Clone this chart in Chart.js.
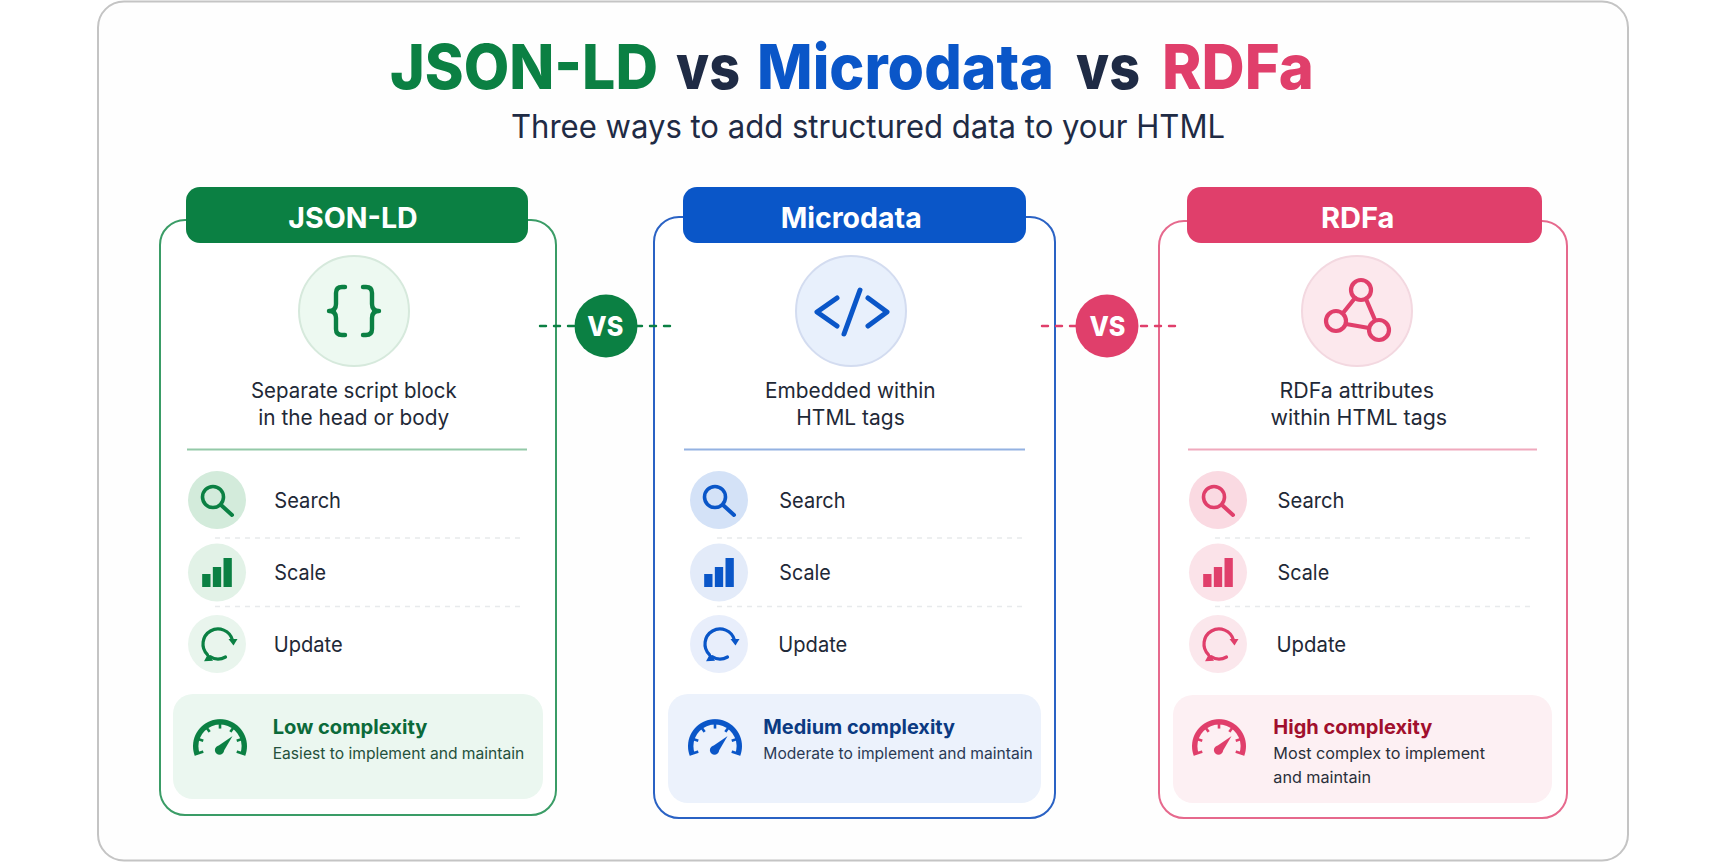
<!DOCTYPE html>
<html lang="en">
<head>
<meta charset="utf-8">
<title>JSON-LD vs Microdata vs RDFa</title>
<script src="https://cdn.jsdelivr.net/npm/chart.js@4/dist/chart.umd.min.js"></script>
<style>
  html, body { margin: 0; padding: 0; background: #ffffff; overflow: hidden; }
  #stage { position: relative; width: 1727px; height: 864px; font-family: Inter, "Noto Sans", sans-serif; }
  #art { position: absolute; left: 0; top: 0; }
  #stage canvas { position: absolute; }
</style>
</head>
<body>
<div id="stage"><svg id="art" xmlns="http://www.w3.org/2000/svg" width="1727" height="864" viewBox="0 0 1727 864"></svg></div>
<script>
/* ---------- content ---------- */
const titleWords = ["JSON-LD", "vs", "Microdata", "vs", "RDFa"];
const subtitle = "Three ways to add structured data to your HTML";
const formats = ["JSON-LD", "Microdata", "RDFa"];
const descriptions = [
  ["Separate script block", "in the head or body"],
  ["Embedded within", "HTML tags"],
  ["RDFa attributes", "within HTML tags"]
];
const rowLabels = ["Search", "Scale", "Update"];
const complexityLabels = ["Low complexity", "Medium complexity", "High complexity"];
const complexityNotes = [
  ["Easiest to implement and maintain"],
  ["Moderate to implement and maintain"],
  ["Most complex to implement", "and maintain"]
];
const badgeLabel = "VS";
const scaleBarValues = [13, 20, 29];   // the three bars of the "Scale" glyph
const gaugeSweep = [100];              // the dial ring of the complexity glyph

/* ---------- colours ---------- */
const mainColor    = ["#0b8043", "#0a56c8", "#e03f6b"];
const borderColor  = ["#3a9c66", "#2a62c4", "#e6698d"];
const ruleColor    = ["#93c9a8", "#94b2e2", "#f0a9bd"];
const bigFill      = ["#edf9f1", "#e8f0fc", "#fce8ed"];
const bigStroke    = ["#d6e9dc", "#d3dcf0", "#f3d8e0"];
const rowFills     = [["#d3ebdb", "#e2f2e7", "#e9f5ed"], ["#d4e2f7", "#e3ebf9", "#e8eefb"], ["#fadae2", "#fbe3e9", "#fbe7ec"]];
const noteBoxFill  = ["#ebf7f0", "#ecf2fc", "#fdf0f3"];
const noteTitle    = ["#0b6a3a", "#0b3a82", "#a10f2d"];
const noteText     = ["#24513c", "#2a3a55", "#2a2f3a"];
const inkDark = "#1f2937", inkNavy = "#1f2b45", inkSub = "#1f2b45";

/* ---------- page layout (pixels) ---------- */
const titleLayout = [[390, 268, mainColor[0]], [676, 64, inkNavy], [757, 297, mainColor[1]], [1076, 64, inkNavy], [1162, 152, mainColor[2]]];
const panelBox  = [[160, 220, 396, 595], [654, 217, 401, 601], [1159, 221, 408, 597]];
const headerBox = [[186, 187, 342, 56], [683, 187, 343, 56], [1187, 187, 355, 56]];
const headerText= [[288.3, 129.4], [780.7, 141], [1321, 73.5]];
const bigCircleX= [354, 851, 1357];
const descText  = [[[251, 205.7], [258.3, 191]], [[765, 170.7], [796.3, 108.4]], [[1279.5, 154.6], [1270.5, 176.5]]];
const ruleX     = [[187, 527], [684, 1025], [1188, 1537]];
const rowCx     = [217, 719, 1218];
const rowY      = [500, 572.5, 644];
const rowTextBase = [508.3, 580.4, 652];
const rowText   = [[[274.3, 66.7], [274.3, 51.7], [273.7, 69]], [[779.3, 66.3], [779.3, 51.4], [778.3, 69]], [[1277.5, 67], [1277.5, 51.7], [1276.5, 69.7]]];
const dashX     = [[215, 525], [717, 1022], [1215, 1530]];
const dashY     = [538, 606.5];
const noteBox   = [[173, 694, 370, 105], [668, 694, 373, 109], [1173, 695, 379, 108]];
const gaugeCx   = [219.5, 714.5, 1218.5];
const noteTitleText = [[272.7, 154.7], [763.3, 191.7], [1273.3, 159]];
const noteSubText = [[[272.7, 251.6]], [[763.3, 269.4]], [[1273.3, 211.7], [1273.3, 97.7]]];
const badges = [[606, 326, 587.3, 36, 540, 670, 0], [1107, 326, 1089.5, 36, 1042, 1175, 2]];

/* ---------- svg helpers ---------- */
const art = document.getElementById("art");
const NS = "http://www.w3.org/2000/svg";
function el(name, attrs, parent) {
  const n = document.createElementNS(NS, name);
  for (const k in attrs) n.setAttribute(k, attrs[k]);
  (parent || art).appendChild(n);
  return n;
}
function txt(str, x, base, w, size, weight, fill) {
  const n = el("text", { x, y: base, "font-size": size, "font-weight": weight, fill,
    "font-family": "Inter, 'Noto Sans', sans-serif", textLength: w, lengthAdjust: "spacingAndGlyphs" });
  n.textContent = str;
  return n;
}
const line = (d, color, width) => el("path", { d, fill: "none", stroke: color, "stroke-width": width, "stroke-linecap": "round", "stroke-linejoin": "round" });

/* ---------- glyphs ---------- */
function braces(cx, cy, c) {
  [1, -1].forEach(s => {
    const p = v => cx + s * v;
    line(`M${p(-9)} ${cy - 24} h${-s * 3} q${-s * 6} 0 ${-s * 6} 6 v11 q0 7 ${-s * 7} 7 q${s * 7} 0 ${s * 7} 7 v11 q0 6 ${s * 6} 6 h${s * 3}`, c, 4.4);
  });
}
function codeTag(cx, cy, c) {
  line(`M${cx - 14} ${cy - 13} L${cx - 34} ${cy + 1} L${cx - 14} ${cy + 15}`, c, 5);
  line(`M${cx + 17} ${cy - 13} L${cx + 36} ${cy + 1} L${cx + 17} ${cy + 15}`, c, 5);
  line(`M${cx + 9} ${cy - 21} L${cx - 7} ${cy + 23}`, c, 5);
}
function graphNodes(cx, cy, c) {
  const a = [cx + 4, cy - 21], b = [cx - 21, cy + 10], d = [cx + 22, cy + 19];
  line(`M${a[0] - 6} ${a[1] + 8} L${b[0] + 7} ${b[1] - 8} M${a[0] + 5} ${a[1] + 9} L${d[0] - 4} ${d[1] - 10} M${b[0] + 10} ${b[1] + 3} L${d[0] - 10} ${d[1] - 2}`, c, 4.2);
  [a, b, d].forEach(p => el("circle", { cx: p[0], cy: p[1], r: 10, fill: "none", stroke: c, "stroke-width": 4.2 }));
}
function magnifier(cx, cy, c) {
  el("circle", { cx: cx - 4, cy: cy - 3, r: 10.5, fill: "none", stroke: c, "stroke-width": 3.6 });
  line(`M${cx + 4} ${cy + 5} L${cx + 15} ${cy + 15}`, c, 4);
}
function refresh(cx, cy, c) {
  const r = 15, cx0 = cx + 1, pt = deg => [cx0 + r * Math.cos(deg * Math.PI / 180), cy + r * Math.sin(deg * Math.PI / 180)];
  const a0 = pt(135), a1 = pt(-15), b0 = pt(60), b1 = pt(122);
  line(`M${a0[0]} ${a0[1]} A${r} ${r} 0 1 1 ${a1[0]} ${a1[1]}`, c, 3.2);
  line(`M${b0[0]} ${b0[1]} A${r} ${r} 0 0 1 ${b1[0]} ${b1[1]}`, c, 3.2);
  el("path", { d: `M${a1[0] - 4} ${a1[1] - 1} L${a1[0] + 5} ${a1[1] - 1} L${a1[0] + 1} ${a1[1] + 5.5} Z`, fill: c });
  el("path", { d: `M${b1[0] + 3} ${b1[1] + 4} L${b1[0] - 6} ${b1[1] + 4.5} L${b1[0] - 2} ${b1[1] - 3} Z`, fill: c });
}
const bigGlyphs = [braces, codeTag, graphNodes];

/* ---------- card + header ---------- */
el("rect", { x: 98, y: 1.5, width: 1530, height: 859, rx: 26, fill: "#fefefe", stroke: "#c4c4c4", "stroke-width": 2 });
titleWords.forEach((w, i) => {
  const t = txt(w, titleLayout[i][0], 89, titleLayout[i][1], 62, 800, titleLayout[i][2]);
});
txt(subtitle, 511, 138, 714, 32, 400, inkSub);

/* ---------- panels ---------- */
formats.forEach((name, i) => {
  const c = mainColor[i], pb = panelBox[i], hb = headerBox[i];
  el("rect", { x: pb[0], y: pb[1], width: pb[2], height: pb[3], rx: 25, fill: "#ffffff", stroke: borderColor[i], "stroke-width": 2 });
  el("rect", { x: hb[0], y: hb[1], width: hb[2], height: hb[3], rx: 14, fill: c });
  txt(name, headerText[i][0], 228, headerText[i][1], 29, 700, "#ffffff");
  el("circle", { cx: bigCircleX[i], cy: 311, r: 55, fill: bigFill[i], stroke: bigStroke[i], "stroke-width": 2 });
  bigGlyphs[i](bigCircleX[i], 311, c);
  descriptions[i].forEach((s, k) => txt(s, descText[i][k][0], k ? 425 : 397.8, descText[i][k][1], 21, 400, inkDark));
  el("line", { x1: ruleX[i][0], x2: ruleX[i][1], y1: 449.5, y2: 449.5, stroke: ruleColor[i], "stroke-width": 2 });
  dashY.forEach(y => el("line", { x1: dashX[i][0], x2: dashX[i][1], y1: y, y2: y, stroke: "#e8eaec", "stroke-width": 1.4, "stroke-dasharray": "5 5" }));
  rowLabels.forEach((s, k) => {
    el("circle", { cx: rowCx[i], cy: rowY[k], r: 29, fill: rowFills[i][k] });
    txt(s, rowText[i][k][0], rowTextBase[k], rowText[i][k][1], 21, 400, inkDark);
  });
  magnifier(rowCx[i], rowY[0], c);
  refresh(rowCx[i], rowY[2], c);
  const nb = noteBox[i];
  el("rect", { x: nb[0], y: nb[1], width: nb[2], height: nb[3], rx: 20, fill: noteBoxFill[i] });
  txt(complexityLabels[i], noteTitleText[i][0], 733.6, noteTitleText[i][1], 20, 700, noteTitle[i]);
  complexityNotes[i].forEach((s, k) => txt(s, noteSubText[i][k][0], k ? 782.7 : 759.3, noteSubText[i][k][1], 16, 400, noteText[i]));
});

/* ---------- VS badges ---------- */
badges.forEach(b => {
  const c = mainColor[b[6]];
  const dash = (from, to) => el("line", { x1: from, x2: to, y1: b[1], y2: b[1], stroke: c, "stroke-width": 2.4, "stroke-linecap": "round", "stroke-dasharray": "6 8" });
  dash(b[4], b[0]);
  dash(b[5], b[0]);
  el("circle", { cx: b[0], cy: b[1], r: 31.5, fill: c });
  txt(badgeLabel, b[2], b[1] + 9.5, b[3], 27, 800, "#ffffff");
});

/* ---------- Chart.js glyphs ---------- */
const stage = document.getElementById("stage");
function addCanvas(x, y, w, h) {
  const cv = document.createElement("canvas");
  cv.width = w; cv.height = h;
  cv.style.cssText = `left:${x}px;top:${y}px;width:${w}px;height:${h}px`;
  stage.appendChild(cv);
  return cv;
}
const gaugeDetail = {
  id: "gaugeDetail",
  afterDatasetsDraw(chart) {
    const arc = chart.getDatasetMeta(0).data[0], g = chart.ctx;
    const c = chart.data.datasets[0].backgroundColor;
    g.save();
    g.strokeStyle = c; g.fillStyle = c; g.lineCap = "butt"; g.lineWidth = 2.6;
    [-108, -72, -36, 0, 36, 72, 108].forEach(d => {
      const t = d * Math.PI / 180, s = Math.sin(t), k = -Math.cos(t);
      g.beginPath();
      g.moveTo(arc.x + s * (arc.outerRadius - 2), arc.y + k * (arc.outerRadius - 2));
      g.lineTo(arc.x + s * (arc.innerRadius - 4), arc.y + k * (arc.innerRadius - 4));
      g.stroke();
    });
    const hx = arc.x - 0.5, hy = arc.y + 4;
    g.beginPath(); g.arc(hx, hy, 4.6, 0, Math.PI * 2); g.fill();
    g.beginPath(); g.moveTo(hx - 2.6, hy - 3.4); g.lineTo(hx + 13, hy - 14); g.lineTo(hx + 3.4, hy + 2.4); g.closePath(); g.fill();
    g.restore();
  }
};
formats.forEach((name, i) => {
  new Chart(addCanvas(rowCx[i] - 16, 558, 32, 29), {
    type: "bar",
    data: { labels: scaleBarValues.map((_, k) => k + 1), datasets: [{ data: scaleBarValues, backgroundColor: mainColor[i], barPercentage: 0.78, categoryPercentage: 1, borderWidth: 0 }] },
    options: { responsive: false, animation: false, devicePixelRatio: 2, layout: { padding: 0 },
      plugins: { legend: { display: false }, tooltip: { enabled: false } },
      scales: { x: { display: false }, y: { display: false, min: 0, max: Math.max(...scaleBarValues) } } }
  });
  new Chart(addCanvas(gaugeCx[i] - 27, 719, 54, 37), {
    type: "doughnut",
    data: { datasets: [{ data: gaugeSweep, backgroundColor: mainColor[i], borderWidth: 0 }] },
    options: { responsive: false, animation: false, devicePixelRatio: 2, rotation: -111, circumference: 222, cutout: "80%", layout: { padding: 0 },
      plugins: { legend: { display: false }, tooltip: { enabled: false } } },
    plugins: [gaugeDetail]
  });
});
</script>
</body>
</html>
